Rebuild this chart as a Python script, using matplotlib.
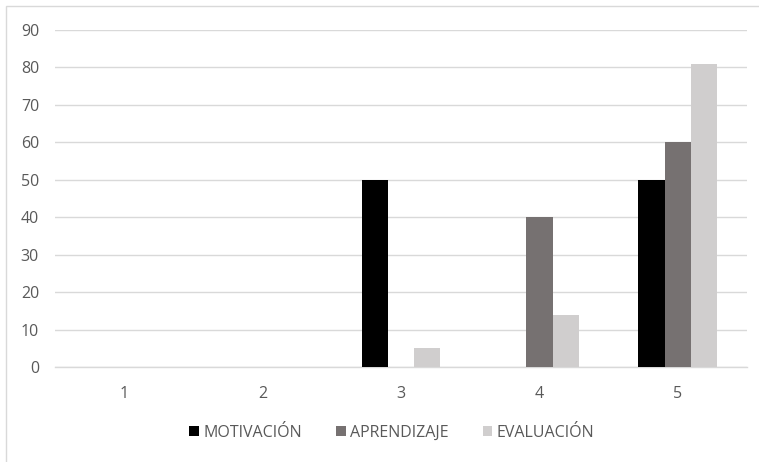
import matplotlib
matplotlib.use("Agg")
import matplotlib.pyplot as plt
from matplotlib.patches import Rectangle
import numpy as np

categories = ["1", "2", "3", "4", "5"]
motivacion = [0, 0, 50, 0, 50]
aprendizaje = [0, 0, 0, 40, 60]
evaluacion = [0, 0, 5, 14, 81]
series_names = ["MOTIVACIÓN", "APRENDIZAJE", "EVALUACIÓN"]
series_colors = ["#000000", "#767171", "#d0cece"]
y_ticks = list(range(0, 100, 10))

W, H = 759, 462
fig = plt.figure(figsize=(W / 100, H / 100), dpi=100)
fig.patch.set_facecolor("white")

# chart frame
fig.patches.append(Rectangle((6 / W, -0.1), 1.2, (H - 6) / H + 0.1,
                             transform=fig.transFigure, fill=False,
                             edgecolor="#d9d9d9", linewidth=1.0))

left, right = 55 / W, 747 / W
bottom, top = (H - 367) / H, (H - 30) / H
ax = fig.add_axes([left, bottom, right - left, top - bottom])

x = np.arange(len(categories))
bw = 0.19
for i, (vals, name, col) in enumerate(zip([motivacion, aprendizaje, evaluacion],
                                          series_names, series_colors)):
    ax.bar(x + (i - 1) * bw, vals, width=bw, color=col, label=name, zorder=3)

ax.set_xlim(-0.5, len(categories) - 0.5)
ax.set_ylim(0, 90)
ax.set_yticks(y_ticks)
ax.set_xticks(x)
ax.set_xticklabels(categories)
ax.yaxis.grid(True, color="#d9d9d9", linewidth=1.0, zorder=0)
ax.set_axisbelow(True)
for s in ["top", "right", "left"]:
    ax.spines[s].set_visible(False)
ax.spines["bottom"].set_color("#d9d9d9")
ax.spines["bottom"].set_linewidth(1.0)
fs = 11.5
ax.tick_params(axis="both", length=0, labelsize=fs, labelcolor="#595959")
ax.tick_params(axis="y", pad=11.5)
ax.tick_params(axis="x", pad=14)
for lab in ax.get_xticklabels() + ax.get_yticklabels():
    lab.set_fontfamily("Open Sans")

leg = fig.legend(loc="center", bbox_to_anchor=(392 / W, (H - 433) / H),
                 ncol=3, frameon=False, handlelength=0.6, handleheight=0.6,
                 handletextpad=0.3, columnspacing=2.1,
                 prop={"family": "Open Sans", "size": fs})
for t in leg.get_texts():
    t.set_color("#595959")

fig.savefig("out.png", dpi=100, facecolor="white")
